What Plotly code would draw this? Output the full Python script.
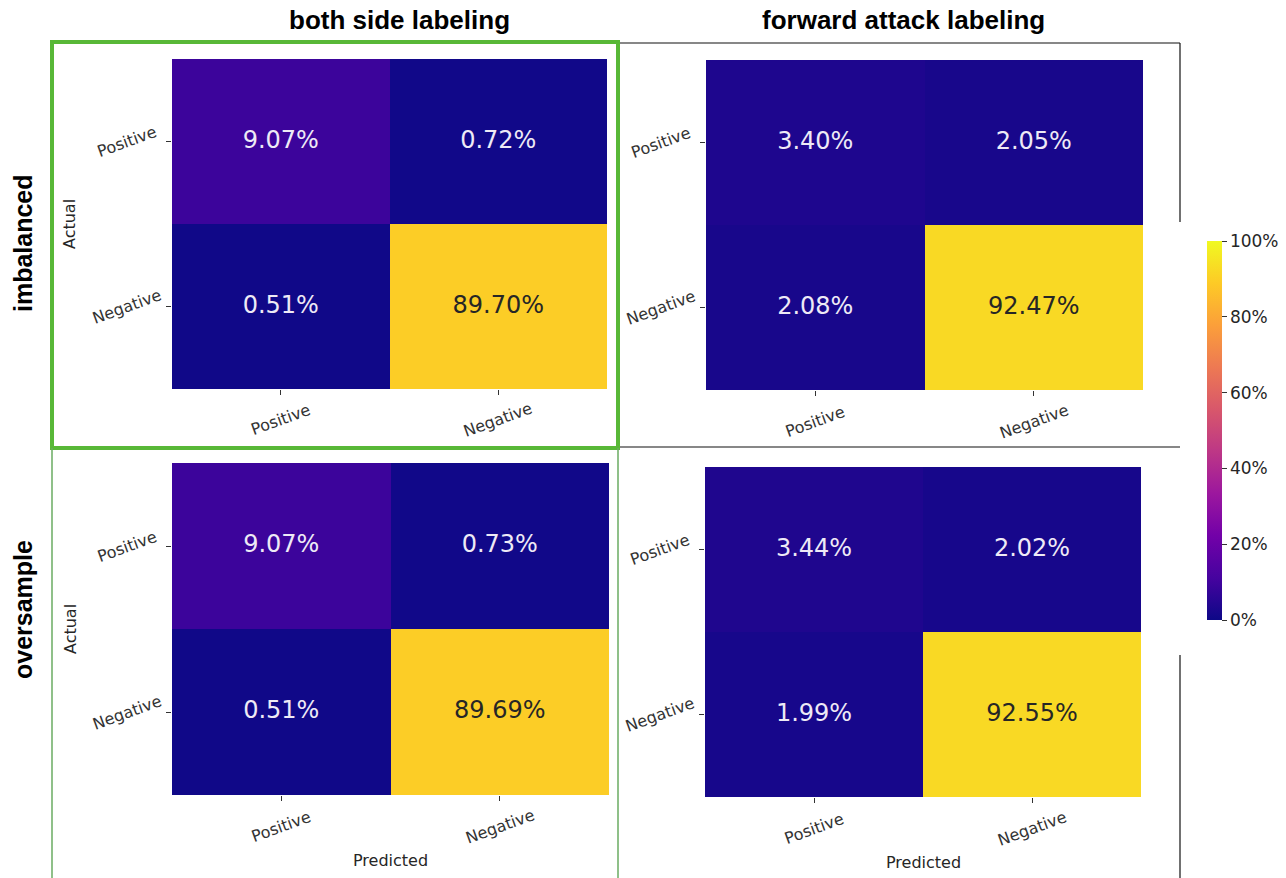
import plotly.graph_objects as go

W, H = 1286, 878

# ---------------- data ----------------
classes = ["Positive", "Negative"]
col_titles = ["both side labeling", "forward attack labeling"]
row_titles = ["imbalanced", "oversample"]

both_imbalanced = [[9.07, 0.72], [0.51, 89.70]]
forward_imbalanced = [[3.40, 2.05], [2.08, 92.47]]
both_oversample = [[9.07, 0.73], [0.51, 89.69]]
forward_oversample = [[3.44, 2.02], [1.99, 92.55]]

cbar_ticks = [0, 20, 40, 60, 80, 100]
cbar_labels = ["0%", "20%", "40%", "60%", "80%", "100%"]

# ---------------- layout helpers ----------------
def px_x(v):
    return v / W

def px_y(v):
    return 1 - v / H

# pixel boxes of heatmaps (left, right, top, bottom)
panels = [
    (both_imbalanced, (172, 607, 59, 389), True, False),
    (forward_imbalanced, (706, 1143, 60, 390), False, False),
    (both_oversample, (172, 609, 463, 795), True, True),
    (forward_oversample, (705, 1141, 467, 797), False, True),
]

fig = go.Figure()
annotations = []
layout_axes = {}

TICK_FONT = dict(family="DejaVu Sans", size=16, color="#333333")

for i, (z, (l, r, t, b), show_actual, show_pred) in enumerate(panels, start=1):
    xa = "x" if i == 1 else f"x{i}"
    ya = "y" if i == 1 else f"y{i}"
    fig.add_trace(go.Heatmap(
        z=z, x=classes, y=classes,
        colorscale="Plasma", zmin=0, zmax=100,
        showscale=(i == 1),
        colorbar=dict(
            x=px_x(1207), xanchor="left", xpad=0, ypad=0,
            y=px_y((241 + 620) / 2), yanchor="middle",
            len=(620 - 241) / H, lenmode="fraction",
            thickness=15, outlinewidth=0,
            tickmode="array", tickvals=cbar_ticks, ticktext=cbar_labels,
            ticks="outside", ticklen=5, tickcolor="#333333",
            tickfont=dict(family="DejaVu Sans", size=17, color="#262626"),
        ),
        xaxis=xa, yaxis=ya, hoverinfo="skip",
    ))
    xs, ys, txt, cols = [], [], [], []
    for ri, row in enumerate(z):
        for ci, v in enumerate(row):
            xs.append(classes[ci])
            ys.append(classes[ri])
            txt.append(f"{v:.2f}%")
            cols.append("#262626" if v > 50 else "#eeeaf6")
    fig.add_trace(go.Scatter(
        x=xs, y=ys, text=txt, mode="text",
        textfont=dict(family="DejaVu Sans", size=24, color=cols),
        xaxis=xa, yaxis=ya, hoverinfo="skip", showlegend=False,
    ))
    xkey = "xaxis" if i == 1 else f"xaxis{i}"
    ykey = "yaxis" if i == 1 else f"yaxis{i}"
    layout_axes[xkey] = dict(
        domain=[px_x(l), px_x(r)], anchor=ya,
        type="category", categoryorder="array", categoryarray=classes,
        showgrid=False, zeroline=False, showline=False,
        ticks="outside", ticklen=5, tickcolor="#333333", tickwidth=1,
        showticklabels=False, fixedrange=True,
    )
    layout_axes[ykey] = dict(
        domain=[px_y(b), px_y(t)], anchor=xa,
        type="category", categoryorder="array", categoryarray=classes,
        autorange="reversed",
        showgrid=False, zeroline=False, showline=False,
        ticks="outside", ticklen=5, tickcolor="#333333", tickwidth=1,
        showticklabels=False, fixedrange=True,
    )
    for c in classes:
        annotations.append(dict(
            text=c, x=c, xref=xa, y=0, yref=f"{ya} domain",
            yshift=-31, showarrow=False, textangle=-20,
            xanchor="center", yanchor="middle", font=TICK_FONT,
        ))
        annotations.append(dict(
            text=c, y=c, yref=ya, x=0, xref=f"{xa} domain",
            xshift=-45, showarrow=False, textangle=-20,
            xanchor="center", yanchor="middle", font=TICK_FONT,
        ))
    if show_actual:
        annotations.append(dict(
            text="Actual", x=0, xref=f"{xa} domain", xshift=-102,
            y=0.5, yref=f"{ya} domain", showarrow=False, textangle=-90,
            xanchor="center", yanchor="middle",
            font=dict(family="DejaVu Sans", size=16, color="#262626"),
        ))
    if show_pred:
        annotations.append(dict(
            text="Predicted", x=0.5, xref=f"{xa} domain",
            y=0, yref=f"{ya} domain", yshift=-65, showarrow=False,
            xanchor="center", yanchor="middle",
            font=dict(family="DejaVu Sans", size=16, color="#262626"),
        ))

for cx, title in zip([399, 903], col_titles):
    annotations.append(dict(
        text=f"<b>{title}</b>", x=px_x(cx), y=px_y(20), xref="paper", yref="paper",
        showarrow=False, xanchor="center", yanchor="middle",
        font=dict(family="Liberation Sans", size=26, color="#000000"),
    ))
for cy, title in zip([243, 610], row_titles):
    annotations.append(dict(
        text=f"<b>{title}</b>", x=px_x(23), y=px_y(cy), xref="paper", yref="paper",
        showarrow=False, xanchor="center", yanchor="middle", textangle=-90,
        font=dict(family="Liberation Sans", size=25, color="#000000"),
    ))

GREEN = "#58b837"
shapes = [
    dict(type="rect", xref="paper", yref="paper",
         x0=px_x(52), x1=px_x(618), y0=px_y(448), y1=px_y(42),
         line=dict(color=GREEN, width=4)),
    dict(type="line", xref="paper", yref="paper",
         x0=px_x(52), x1=px_x(52), y0=px_y(448), y1=px_y(878),
         line=dict(color="#6aab62", width=1.5)),
    dict(type="line", xref="paper", yref="paper",
         x0=px_x(618), x1=px_x(618), y0=px_y(448), y1=px_y(878),
         line=dict(color="#6aab62", width=1.5)),
    dict(type="line", xref="paper", yref="paper",
         x0=px_x(620), x1=px_x(1180), y0=px_y(43), y1=px_y(43),
         line=dict(color="#111111", width=1.2)),
    dict(type="line", xref="paper", yref="paper",
         x0=px_x(1180), x1=px_x(1180), y0=px_y(43), y1=px_y(222),
         line=dict(color="#111111", width=1.2)),
    dict(type="line", xref="paper", yref="paper",
         x0=px_x(620), x1=px_x(1180), y0=px_y(447), y1=px_y(447),
         line=dict(color="#111111", width=1.2)),
    dict(type="line", xref="paper", yref="paper",
         x0=px_x(1180), x1=px_x(1180), y0=px_y(655), y1=px_y(878),
         line=dict(color="#111111", width=1.2)),
]

fig.update_layout(
    width=W, height=H,
    margin=dict(l=0, r=0, t=0, b=0),
    paper_bgcolor="white", plot_bgcolor="white",
    showlegend=False,
    annotations=annotations, shapes=shapes,
    **layout_axes,
)

fig.write_html("out.html", config={"displayModeBar": False})
